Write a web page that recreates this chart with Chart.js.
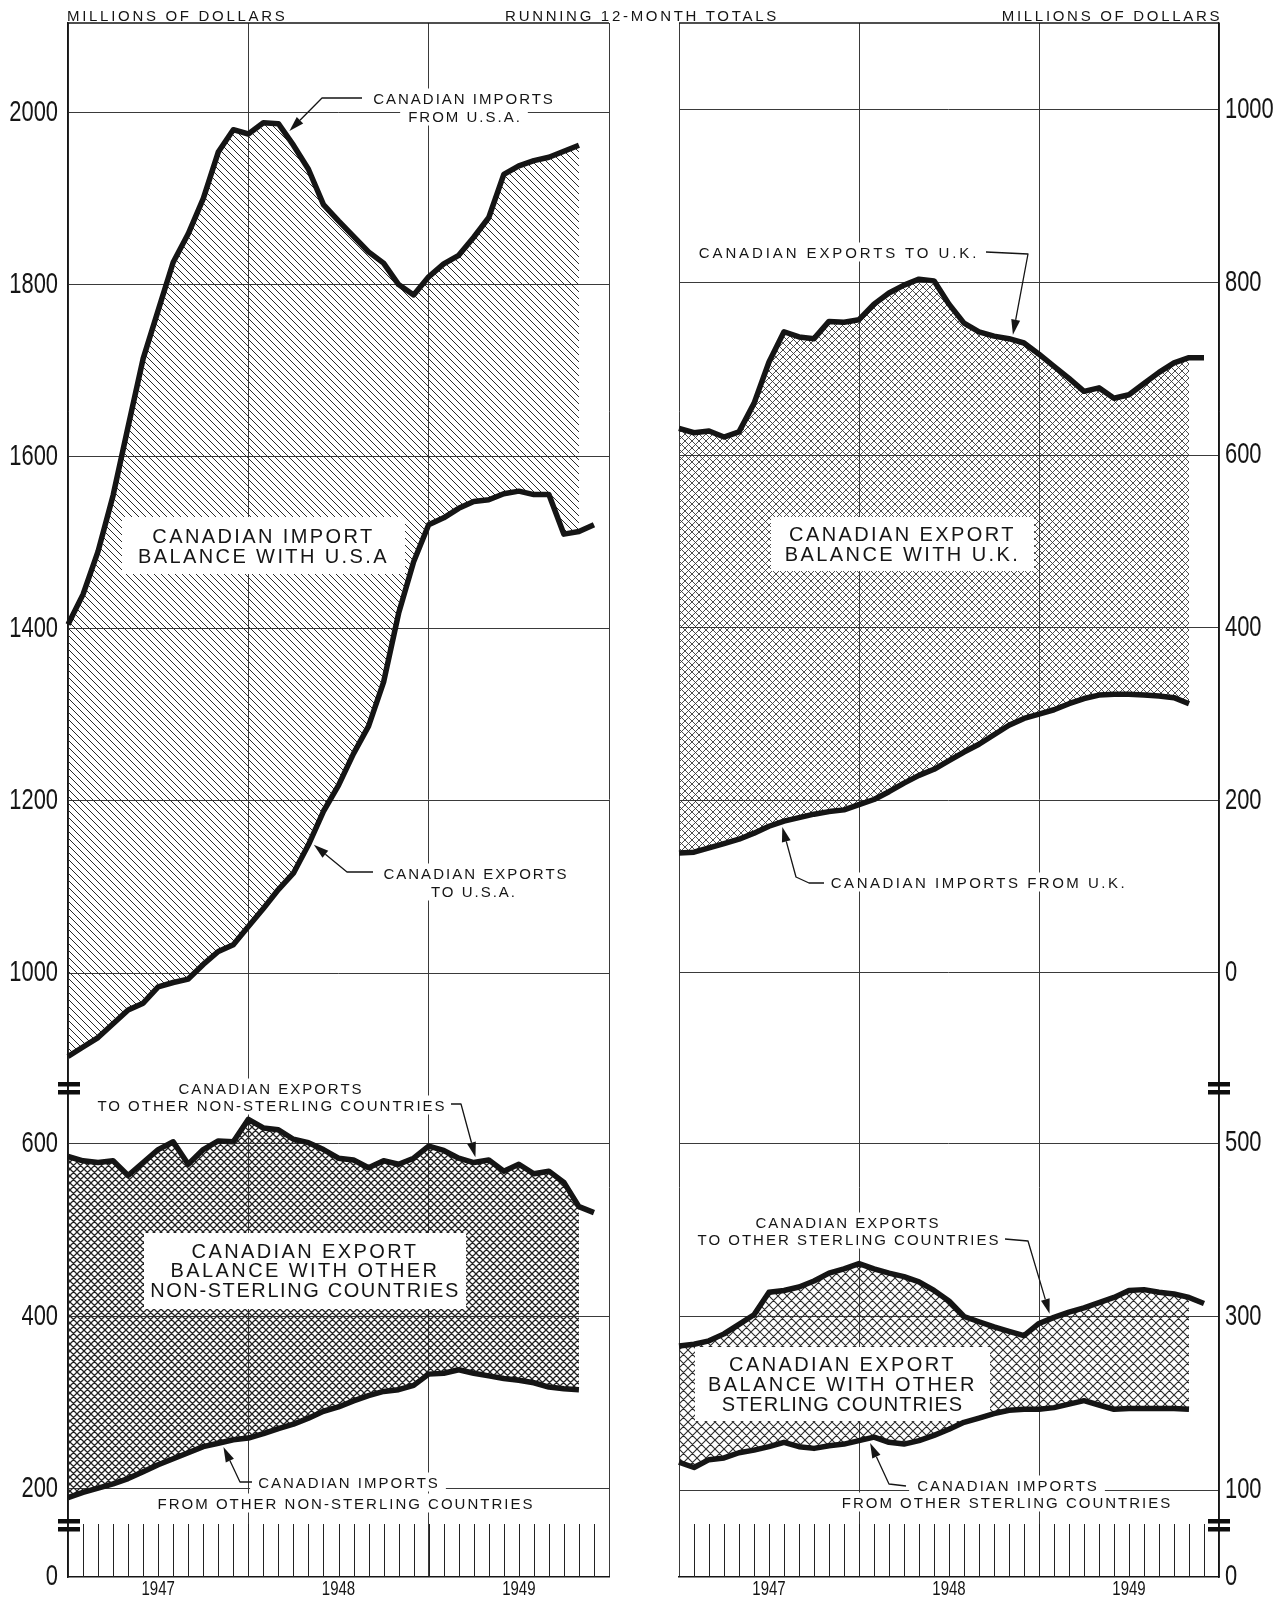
<!DOCTYPE html>
<html>
<head>
<meta charset="utf-8">
<title>Canadian trade balances, running 12-month totals, 1947-1949</title>
<script src="https://cdn.jsdelivr.net/npm/chart.js@4.4.1/dist/chart.umd.min.js"></script>
<style>
html,body{margin:0;padding:0;background:#fff;}
#wrap{position:relative;width:1286px;height:1598px;overflow:hidden;background:#fff;}
canvas{position:absolute;top:0;}
#cL{left:0;} #cR{left:643px;}
.t{position:absolute;white-space:nowrap;font-family:"Liberation Sans",Arial,sans-serif;color:#151515;line-height:1;}
.h{font-size:15px;letter-spacing:2.7px;transform:translateY(-50%);}
.hc{font-size:15px;letter-spacing:2.7px;transform:translate(-50%,-50%);}
.s{font-size:15px;letter-spacing:2px;padding:2px 6px 2px 8px;transform:translate(-50%,-50%);}
.b{font-size:20px;letter-spacing:2.4px;display:flex;flex-direction:column;align-items:center;justify-content:center;line-height:20px;}
</style>
</head>
<body>
<div id="wrap">
  <canvas id="cL" width="643" height="1598"></canvas>
  <canvas id="cR" width="643" height="1598"></canvas>

  <div class="t h" style="left:67px;top:15px;">MILLIONS OF DOLLARS</div>
  <div class="t hc" style="left:642px;top:15px;">RUNNING 12-MONTH TOTALS</div>
  <div class="t hc" style="left:1112px;top:15px;">MILLIONS OF DOLLARS</div>

  <!-- left panel -->
  <div class="t s" style="left:463px;top:98px;">CANADIAN IMPORTS</div>
  <div class="t s" style="left:464px;top:116px;">FROM U.S.A.</div>
  <div class="t b" style="left:122px;top:517px;width:283px;height:57px;"><span>CANADIAN IMPORT</span><span>BALANCE WITH U.S.A</span></div>
  <div class="t s" style="left:475px;top:873px;">CANADIAN EXPORTS</div>
  <div class="t s" style="left:473px;top:891px;">TO U.S.A.</div>

  <div class="t s" style="left:270px;top:1088px;">CANADIAN EXPORTS</div>
  <div class="t s" style="left:271px;top:1105px;">TO OTHER NON-STERLING COUNTRIES</div>
  <div class="t b" style="left:144px;top:1233px;width:322px;height:76px;line-height:19.5px;"><span>CANADIAN EXPORT</span><span>BALANCE WITH OTHER</span><span style="letter-spacing:1.6px;">NON-STERLING COUNTRIES</span></div>
  <div class="t s" style="left:348px;top:1482px;">CANADIAN IMPORTS</div>
  <div class="t s" style="left:345px;top:1503px;">FROM OTHER NON-STERLING COUNTRIES</div>

  <!-- right panel -->
  <div class="t s" style="left:838px;top:252px;letter-spacing:2.9px;">CANADIAN EXPORTS TO U.K.</div>
  <div class="t b" style="left:771px;top:517px;width:263px;height:54px;"><span>CANADIAN EXPORT</span><span>BALANCE WITH U.K.</span></div>
  <div class="t s" style="left:978px;top:882px;letter-spacing:2.5px;">CANADIAN IMPORTS FROM U.K.</div>

  <div class="t s" style="left:847px;top:1222px;">CANADIAN EXPORTS</div>
  <div class="t s" style="left:848px;top:1239px;">TO OTHER STERLING COUNTRIES</div>
  <div class="t b" style="left:695px;top:1347px;width:295px;height:74px;"><span>CANADIAN EXPORT</span><span>BALANCE WITH OTHER</span><span style="letter-spacing:1px;">STERLING COUNTRIES</span></div>
  <div class="t s" style="left:1007px;top:1485px;">CANADIAN IMPORTS</div>
  <div class="t s" style="left:1006px;top:1502px;">FROM OTHER STERLING COUNTRIES</div>
</div>

<script>
// ---------------- data (running 12-month totals, millions of dollars) ----------------
const months = [
  'Jan 1947','Feb 1947','Mar 1947','Apr 1947','May 1947','Jun 1947','Jul 1947','Aug 1947','Sep 1947','Oct 1947','Nov 1947','Dec 1947',
  'Jan 1948','Feb 1948','Mar 1948','Apr 1948','May 1948','Jun 1948','Jul 1948','Aug 1948','Sep 1948','Oct 1948','Nov 1948','Dec 1948',
  'Jan 1949','Feb 1949','Mar 1949','Apr 1949','May 1949','Jun 1949','Jul 1949','Aug 1949','Sep 1949','Oct 1949','Nov 1949','Dec 1949',
  'Jan 1950'
];
const yearLabels = ['1947', '1948', '1949'];

const usImports = [1405,1440,1490,1555,1635,1714,1770,1826,1859,1900,1954,1980,1975,1988,1987,1962,1934,1893,1874,1856,1838,1825,1800,1788,1809,1824,1834,1855,1878,1928,1938,1944,1948,1955,1962];
const usExports = [903,914,925,941,957,965,984,989,993,1010,1025,1033,1054,1075,1097,1116,1149,1188,1218,1255,1287,1338,1418,1478,1521,1529,1540,1548,1550,1557,1560,1556,1556,1510,1513,1521];

const otherNonSterlingImports = [190,196,201,206,212,220,228,235,242,249,253,257,259,264,270,275,282,290,295,302,308,313,315,320,333,334,338,334,331,328,326,323,318,316,315];
const otherNonSterlingExports = [585,580,578,580,563,578,593,602,576,593,603,602,628,618,616,605,601,593,583,581,572,580,576,583,597,592,583,578,581,568,576,565,568,555,527,520];

const ukImports = [139,140,145,150,155,162,170,176,180,184,187,189,195,201,210,220,229,236,246,256,265,276,287,295,300,305,312,318,322,323,323,322,321,319,312];
const ukExports = [631,626,628,621,627,660,708,743,737,735,755,754,757,775,788,797,804,802,775,753,743,738,735,730,717,703,689,674,678,666,670,683,696,707,713,713];

const otherSterlingImports = [132,126,135,137,143,146,150,155,150,148,151,153,157,161,155,153,157,163,170,178,183,188,192,193,193,195,199,203,198,193,194,194,194,194,193];
const otherSterlingExports = [266,268,272,280,291,302,328,330,334,341,350,355,361,355,350,346,340,330,318,300,294,288,283,278,292,299,305,310,316,322,330,331,328,326,322,315];

const leftUpperTicks = [1000, 1200, 1400, 1600, 1800, 2000];
const leftLowerTicks = [200, 400, 600];
const rightUpperTicks = [0, 200, 400, 600, 800, 1000];
const rightLowerTicks = [100, 300, 500];
const baseTicks = [0];

// ---------------- styling helpers ----------------
const NUM_FONT = '"Liberation Sans",Arial,sans-serif';
const INK = '#151515';
const GRID = '#3a3a3a';

function hatch(size, cross, lw, color) {
  const c = document.createElement('canvas');
  c.width = size; c.height = size;
  const g = c.getContext('2d');
  g.strokeStyle = color; g.lineWidth = lw;
  g.beginPath();
  for (const k of [-size, 0, size]) {
    g.moveTo(k, 0); g.lineTo(k + size, size);
    if (cross) { g.moveTo(k + size, 0); g.lineTo(k, size); }
  }
  g.stroke();
  return g.createPattern(c, 'repeat');
}

function noPad(s) { s.paddingTop = 0; s.paddingBottom = 0; s.paddingLeft = 0; s.paddingRight = 0; }

function yAxis(side, min, max, ticks, stackWeight, weight, width, pad, showGrid) {
  return {
    type: 'linear', position: side, stack: 'p', stackWeight: stackWeight, weight: weight,
    min: min, max: max,
    afterBuildTicks: s => { s.ticks = ticks.map(v => ({ value: v })); },
    afterFit: s => { s.width = width; noPad(s); },
    ticks: { callback: v => String(v), color: INK, font: { family: NUM_FONT, size: 30 }, padding: pad, autoSkip: false },
    grid: { display: showGrid, color: GRID, lineWidth: 1, drawTicks: false },
    border: { display: true, color: INK, width: 1.5 }
  };
}

function xAxis() {
  return {
    type: 'category', position: 'bottom', offset: false,
    afterFit: s => { s.height = 21; noPad(s); },
    ticks: {
      autoSkip: false, maxRotation: 0, minRotation: 0, padding: 0, color: INK,
      font: { family: NUM_FONT, size: 20 },
      callback: function (v, i) { return i % 12 === 6 ? yearLabels[(i - 6) / 12] : ''; }
    },
    grid: { drawTicks: false, lineWidth: 1, color: c => (c.index % 12 === 0 ? GRID : 'rgba(0,0,0,0)') },
    border: { display: true, color: INK, width: 1.5 }
  };
}

function series(data, yAxisID, fill, bg) {
  return {
    data: data, yAxisID: yAxisID, xAxisID: 'x',
    borderColor: INK, borderWidth: 5.5, pointRadius: 0, tension: 0,
    borderJoinStyle: 'round', borderCapStyle: 'butt',
    fill: fill, backgroundColor: bg || 'rgba(0,0,0,0)'
  };
}

// draw tick labels horizontally condensed (narrow drafting numerals), keeping the library's label positions
function condense(scale, sx) {
  scale.drawLabels = function (area) {
    const ctx = this.ctx;
    for (const it of this.getLabelItems(area)) {
      const lines = Array.isArray(it.label) ? it.label : [it.label];
      if (!lines[0]) continue;
      const o = it.options;
      ctx.save();
      ctx.translate(o.translation[0], o.translation[1]);
      ctx.scale(sx, 1);
      ctx.font = it.font.string;
      ctx.fillStyle = o.color;
      ctx.textAlign = o.textAlign;
      ctx.textBaseline = o.textBaseline;
      ctx.fillText(String(lines[0]), 0, it.textOffset);
      ctx.restore();
    }
  };
}

function drawArrow(ctx, chart, offsetX, ar) {
  const xs = chart.scales.x, ys = chart.scales[ar.axis];
  const i0 = Math.floor(ar.at), f = ar.at - i0;
  const v = ar.data[i0] + (ar.data[i0 + 1] - ar.data[i0]) * f;
  const px = xs.getPixelForValue(ar.at), py = ys.getPixelForValue(v);
  const pts = ar.path.map(p => [p[0] - offsetX, p[1]]);
  const last = pts[pts.length - 1];
  let dx = px - last[0], dy = py - last[1];
  const L = Math.hypot(dx, dy); dx /= L; dy /= L;
  const tip = [px - dx * ar.gap, py - dy * ar.gap];
  const head = 15, hw = 4.5;
  const base = [tip[0] - dx * head, tip[1] - dy * head];
  ctx.beginPath();
  ctx.moveTo(pts[0][0], pts[0][1]);
  for (const p of pts.slice(1)) ctx.lineTo(p[0], p[1]);
  ctx.lineTo(base[0], base[1]);
  ctx.stroke();
  ctx.beginPath();
  ctx.moveTo(tip[0], tip[1]);
  ctx.lineTo(base[0] - dy * hw, base[1] + dx * hw);
  ctx.lineTo(base[0] + dy * hw, base[1] - dx * hw);
  ctx.closePath();
  ctx.fill();
}

function decor(side, offsetX, arrows) {
  return {
    id: 'decor',
    afterLayout(chart) {
      for (const id of ['x', 'yUp', 'yLow', 'yStrip']) {
        const s = chart.scales[id];
        if (s && !s._condensed) { condense(s, id === 'x' ? 0.75 : 0.73); s._condensed = true; }
      }
    },
    // white label panels: over grid and hatching, under the data lines
    beforeDatasetsDraw(chart) {
      const ctx = chart.ctx;
      const w = document.getElementById('wrap').getBoundingClientRect();
      ctx.save();
      ctx.fillStyle = '#fff';
      for (const el of document.querySelectorAll('.s,.b')) {
        const r = el.getBoundingClientRect();
        const x = r.left - w.left - offsetX;
        if (x + r.width <= 0 || x >= chart.width) continue;
        ctx.fillRect(x, r.top - w.top, r.width, r.height);
      }
      ctx.restore();
    },
    afterDraw(chart) {
      const { ctx, chartArea: a, scales } = chart;
      const xs = scales.x, strip = scales.yStrip;
      ctx.save();
      // top frame line
      ctx.strokeStyle = INK; ctx.lineWidth = 1.5;
      ctx.beginPath(); ctx.moveTo(a.left, a.top); ctx.lineTo(a.right, a.top); ctx.stroke();
      // monthly tick marks in the base strip
      ctx.lineWidth = 1; ctx.strokeStyle = '#222';
      ctx.beginPath();
      for (let i = 1; i < months.length - 1; i++) {
        const px = Math.round(xs.getPixelForValue(i)) + 0.5;
        ctx.moveTo(px, strip.top - 1); ctx.lineTo(px, strip.bottom);
      }
      ctx.stroke();
      // scale-break marks
      const ax = side === 'left' ? a.left + 1 : a.right;
      ctx.fillStyle = '#0d0d0d';
      for (const yb of [scales.yUp.bottom, scales.yLow.bottom]) {
        ctx.fillRect(ax - 11, yb - 6, 22, 4.5);
        ctx.fillRect(ax - 11, yb + 2, 22, 4.5);
      }
      // annotation arrows
      ctx.strokeStyle = INK; ctx.fillStyle = INK; ctx.lineWidth = 1.3;
      ctx.lineJoin = 'round';
      for (const ar of arrows) drawArrow(ctx, chart, offsetX, ar);
      ctx.restore();
    }
  };
}

function baseOptions(padding) {
  return {
    responsive: false, animation: false, devicePixelRatio: 1, events: [],
    layout: { autoPadding: false, padding: padding },
    plugins: { legend: { display: false }, tooltip: { enabled: false }, filler: { drawTime: 'beforeDatasetsDraw' } }
  };
}

// ---------------- left panel: U.S.A. / other non-sterling ----------------
const leftOpts = baseOptions({ top: 23, left: 0, right: 34, bottom: 0 });
leftOpts.scales = {
  x: xAxis(),
  yUp: yAxis('left', 866.4, 2104.0, leftUpperTicks, 1065, 3, 68, 10, true),
  yLow: yAxis('left', 158.3, 664.3, leftLowerTicks, 437, 2, 68, 10, true),
  yStrip: yAxis('left', 0, 60, baseTicks, 52, 1, 68, 10, false)
};
new Chart(document.getElementById('cL'), {
  type: 'line',
  data: {
    labels: months,
    datasets: [
      series(usImports, 'yUp', { target: 1 }, hatch(7, false, 1, '#2a2a2a')),
      series(usExports, 'yUp', false),
      series(otherNonSterlingImports, 'yLow', { target: 3 }, hatch(7, true, 1.25, '#222')),
      series(otherNonSterlingExports, 'yLow', false)
    ]
  },
  options: leftOpts,
  plugins: [decor('left', 0, [
    { data: usImports, axis: 'yUp', at: 14.5, gap: 5, path: [[362, 98], [322, 98]] },
    { data: usExports, axis: 'yUp', at: 16.1, gap: 5, path: [[373, 872], [347, 872]] },
    { data: otherNonSterlingExports, axis: 'yLow', at: 27.2, gap: 5, path: [[451, 1104], [461, 1104]] },
    { data: otherNonSterlingImports, axis: 'yLow', at: 10.2, gap: 5, path: [[252, 1482], [240, 1482]] }
  ])]
});

// ---------------- right panel: U.K. / other sterling ----------------
const rightOpts = baseOptions({ top: 23, left: 36, right: 0, bottom: 0 });
rightOpts.scales = {
  x: xAxis(),
  yUp: yAxis('right', -133.3, 1100.8, rightUpperTicks, 1065, 1, 67, 6, true),
  yLow: yAxis('right', 59.7, 563.4, rightLowerTicks, 437, 2, 67, 6, true),
  yStrip: yAxis('right', 0, 60, baseTicks, 52, 3, 67, 6, false)
};
new Chart(document.getElementById('cR'), {
  type: 'line',
  data: {
    labels: months,
    datasets: [
      series(ukImports, 'yUp', { target: 1 }, hatch(7, true, 0.9, '#3a3a3a')),
      series(ukExports, 'yUp', false),
      series(otherSterlingImports, 'yLow', { target: 3 }, hatch(9, true, 1.1, '#2a2a2a')),
      series(otherSterlingExports, 'yLow', false)
    ]
  },
  options: rightOpts,
  plugins: [decor('right', 643, [
    { data: ukExports, axis: 'yUp', at: 22.2, gap: 5, path: [[986, 252], [1028, 254]] },
    { data: ukImports, axis: 'yUp', at: 6.8, gap: 5, path: [[824, 883], [809, 883], [796, 877]] },
    { data: otherSterlingExports, axis: 'yLow', at: 24.8, gap: 5, path: [[1005, 1239], [1028, 1241]] },
    { data: otherSterlingImports, axis: 'yLow', at: 12.6, gap: 5, path: [[906, 1486], [889, 1484]] }
  ])]
});
</script>
</body>
</html>
